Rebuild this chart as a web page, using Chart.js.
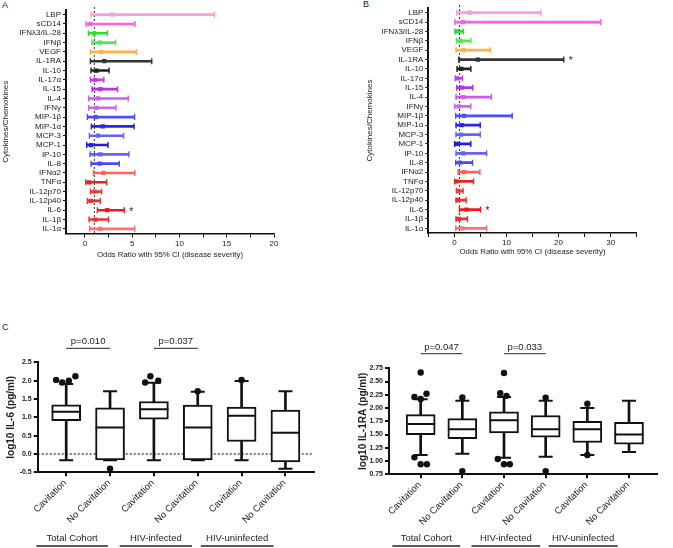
<!DOCTYPE html>
<html><head><meta charset="utf-8">
<script src="https://cdn.jsdelivr.net/npm/chart.js@4.4.1/dist/chart.umd.min.js"></script>
<style>
html,body{margin:0;padding:0;background:#fff;width:673px;height:548px;overflow:hidden;font-family:"Liberation Sans",Arial,sans-serif}
canvas{position:absolute}
.lbl{position:absolute;font-size:9px;color:#222;line-height:1}
</style></head><body>
<div class="lbl" style="left:2px;top:1px">A</div>
<div class="lbl" style="left:363px;top:0px">B</div>
<div class="lbl" style="left:2px;top:323px">C</div>
<canvas id="cA" width="330" height="290" style="left:0;top:0"></canvas>
<canvas id="cB" width="343" height="290" style="left:330px;top:0"></canvas>
<canvas id="cL" width="330" height="248" style="left:0;top:300px"></canvas>
<canvas id="cR" width="343" height="248" style="left:330px;top:300px"></canvas>
<script>
// ---------- Forest plots (A, B) ----------
const cytokines = ['LBP','sCD14','IFNλ3/IL-28','IFNβ','VEGF','IL-1RA','IL-10','IL-17α','IL-15','IL-4','IFNγ','MIP-1β','MIP-1α','MCP-3','MCP-1','IP-10','IL-8','IFNα2','TNFα','IL-12p70','IL-12p40','IL-6','IL-1β','IL-1α'];
const oddsA   = [2.9,0.58,1.0,1.56,1.74,2.05,1.24,1.1,1.63,1.39,1.21,1.14,1.88,1.39,0.65,1.63,1.56,1.95,0.44,1.03,0.61,2.37,1.1,1.63];
const ciLowA  = [0.65,0.13,0.37,0.76,0.58,0.58,0.65,0.58,0.76,0.4,0.4,0.26,0.68,0.47,0.19,0.54,0.65,0.9,0.09,0.58,0.26,1.32,0.44,0.5];
const ciHighA = [13.7,5.3,2.37,3.25,5.45,7.07,2.55,2.0,3.45,4.58,3.28,5.25,5.2,4.09,2.44,4.65,3.63,5.28,2.3,1.77,1.63,4.16,2.5,5.28];
const signifA = ['IL-6'];
const oddsB   = [2.96,1.68,0.5,1.16,1.74,4.5,1.35,0.5,1.48,1.68,0.9,1.87,1.42,1.29,0.5,1.68,1.03,1.87,0.39,0.77,0.71,2.32,0.84,1.55];
const ciLowB  = [0.45,0.1,0.13,0.39,0.32,0.84,0.52,0.19,0.45,0.32,0.06,0.26,0.32,0.32,0.05,0.32,0.26,0.71,0.05,0.39,0.32,0.97,0.32,0.26];
const ciHighB = [16.6,28.1,1.74,3.16,6.9,21.0,3.16,1.55,3.55,7.1,3.16,11.1,4.97,4.97,3.16,6.2,3.48,4.9,3.68,1.68,2.26,5.03,2.51,6.2];
const signifB = ['IL-1RA','IL-6'];
const xTicksA = [0,2.5,5,7.5,10,12.5,15,17.5,20];
const xTicksB = [-5,0,5,10,15,20,25,30,35];
const forestRefValue = 1;

// ---------- Box plots (C) ----------
const boxCats = ['Cavitation','No Cavitation','Cavitation','No Cavitation','Cavitation','No Cavitation'];
const cohortGroups = ['Total Cohort','HIV-infected','HIV-uninfected'];
const il6Min = [-0.17,-0.17,-0.17,-0.17,-0.17,-0.4];
const il6Q1  = [0.91,-0.16,0.95,-0.16,0.34,-0.22];
const il6Med = [1.15,0.72,1.22,0.72,1.04,0.58];
const il6Q3  = [1.34,1.26,1.43,1.33,1.28,1.2];
const il6Max = [1.91,1.71,1.94,1.70,1.99,1.71];
// [category, value, horizontal spread]
const il6Outliers = [[1,2.02,-0.23],[1,1.95,-0.09],[1,2.0,0.06],[1,2.12,0.21],[2,-0.4,0],[3,1.95,-0.2],[3,2.12,-0.08],[3,2.0,0.1],[4,1.71,0],[5,2.02,0]];
const il6PTexts = ['p=0.010','p=0.037'];
const il6Pairs = [[1,2],[3,4]];
const ilraMin = [1.115,1.14,1.06,1.08,1.115,1.17];
const ilraQ1  = [1.50,1.42,1.53,1.45,1.35,1.32];
const ilraMed = [1.70,1.60,1.77,1.60,1.60,1.50];
const ilraQ3  = [1.875,1.80,1.93,1.86,1.75,1.73];
const ilraMax = [2.165,2.14,2.21,2.14,2.0,2.14];
const ilraOutliers = [[1,2.67,0],[1,2.21,-0.15],[1,2.17,0],[1,2.27,0.14],[1,1.07,-0.15],[1,0.94,0],[1,0.94,0.15],[2,2.2,0],[2,0.81,0],[3,2.66,0],[3,2.28,-0.09],[3,2.23,0.06],[3,1.04,-0.15],[3,0.94,0],[3,0.94,0.14],[4,2.195,0],[4,0.81,0],[5,2.08,0],[5,1.115,0]];
const ilraPTexts = ['p=0.047','p=0.033'];
const ilraPairs = [[1,2],[3,4]];

// ---------- styles ----------
const rowColors = ['#ff9ade','#ff5fe4','#2fdc2f','#4fe84f','#ffae4a','#333333','#222222','#c93aec','#b832e0','#cc5cee','#cc66ee','#4d4dff','#2525ee','#6262ff','#2020dd','#6262ff','#4a4aee','#ff6060','#ee2020','#ee3a3a','#ee3030','#ee1a1a','#ee3030','#ff7070'];
const groupSpans = [[0.32,1.95],[2.22,3.87],[4.07,5.73]];
const FONT = '"Liberation Sans", Arial, Helvetica, sans-serif';
Chart.defaults.font.family = FONT;
Chart.defaults.color = '#222';
Chart.defaults.animation = false;
Chart.defaults.plugins.legend.display = false;
Chart.defaults.plugins.tooltip.enabled = false;

function forestPlugin(hi, sig) {
  return {
    id: 'forestExtras',
    beforeDatasetsDraw(chart) {
      const {ctx, chartArea, scales:{x}} = chart;
      const px = x.getPixelForValue(forestRefValue);
      ctx.save(); ctx.strokeStyle = '#333'; ctx.lineWidth = 1; ctx.setLineDash([2,2]);
      ctx.beginPath(); ctx.moveTo(px, chartArea.top - 3); ctx.lineTo(px, chartArea.bottom); ctx.stroke(); ctx.restore();
    },
    afterDatasetsDraw(chart) {
      const {ctx, scales:{x,y}} = chart;
      ctx.save(); ctx.fillStyle = '#222'; ctx.font = '10px ' + FONT; ctx.textBaseline = 'middle';
      sig.forEach(name => { const i = cytokines.indexOf(name); ctx.fillText('*', x.getPixelForValue(hi[i]) + 5, y.getPixelForValue(i) + 2); });
      ctx.restore();
    }
  };
}

function forestChart(id, odds, lo, hi, sig, xTicks, labelEvery, lay) {
  return new Chart(document.getElementById(id), {
    type: 'bar',
    data: {
      labels: cytokines,
      datasets: [
        { type:'bar', data: cytokines.map((c,i)=>[lo[i],hi[i]]), backgroundColor: rowColors, barThickness: 2, grouped:false, order:3 },
        { type:'scatter', data: cytokines.flatMap((c,i)=>[{x:lo[i],y:c},{x:hi[i],y:c}]), pointStyle:'line', rotation:90, radius:3, borderWidth:1.4,
          borderColor: cytokines.flatMap((c,i)=>[rowColors[i],rowColors[i]]), order:2 },
        { type:'scatter', data: cytokines.map((c,i)=>({x:odds[i],y:c})), pointStyle:'rect', radius:3, backgroundColor: rowColors, borderColor: rowColors, borderWidth:0, order:1 }
      ]
    },
    options: {
      indexAxis:'y', responsive:false, animation:false,
      layout:{ padding: lay.pad },
      scales: {
        x: {
          type:'linear', min: lay.xmin, max: lay.xmax,
          afterBuildTicks: s => { s.ticks = xTicks.map(v => ({value:v})); },
          afterFit: s => { s.height = lay.xh; s.paddingLeft = 0; s.paddingRight = 0; },
          ticks: { autoSkip:false, maxRotation:0, minRotation:0, padding:1, font:{size:8}, color:'#222', callback: v => (v % labelEvery === 0 ? String(v) : '') },
          grid: { drawOnChartArea:false, drawTicks:true, tickLength:4, color:'#111', lineWidth:1 },
          border: { color:'#111', width:1.5 },
          title: { display:true, text:'Odds Ratio with 95% CI (disease severity)', font:{size:7.8}, padding:{top:0,bottom:0}, color:'#222' }
        },
        y: {
          type:'category', labels: cytokines, offset:true,
          afterFit: s => { s.width = lay.yw; s.paddingTop = 0; s.paddingBottom = 0; },
          ticks: { autoSkip:false, padding:2, font:{size:8}, color:'#222' },
          grid: { offset:false, drawOnChartArea:false, drawTicks:true, tickLength:3, color:'#111', lineWidth:1 },
          border: { color:'#111', width:2 },
          title: { display:true, text:'Cytokines/Chemokines', font:{size:8}, padding:{top:1.2,bottom:0}, color:'#222' }
        }
      }
    },
    plugins: [forestPlugin(hi, sig)]
  });
}

forestChart('cA', oddsA, ciLowA, ciHighA, signifA, xTicksA, 5,
  { pad:{left:0, top:10, right:56, bottom:30.6}, xmin:-2, xmax:20, xh:25.9, yw:66 });
forestChart('cB', oddsB, ciLowB, ciHighB, signifB, xTicksB, 10,
  { pad:{left:34, top:8, right:36.3, bottom:33.2}, xmin:-5, xmax:35, xh:23.8, yw:64.3 });

function boxPlugin(pairs, pTexts, lay) {
  return {
    id: 'boxExtras',
    beforeDatasetsDraw(chart) {
      if (lay.refY === undefined) return;
      const {ctx, chartArea, scales:{y}} = chart;
      const py = y.getPixelForValue(lay.refY);
      ctx.save(); ctx.strokeStyle = '#222'; ctx.lineWidth = 1.2; ctx.setLineDash([2,2]);
      ctx.beginPath(); ctx.moveTo(chartArea.left, py); ctx.lineTo(chartArea.right, py); ctx.stroke(); ctx.restore();
    },
    afterDraw(chart) {
      const {ctx, scales:{x}} = chart;
      ctx.save(); ctx.fillStyle = '#222'; ctx.strokeStyle = '#222'; ctx.textAlign = 'center'; ctx.textBaseline = 'middle';
      ctx.font = '9.5px ' + FONT;
      pairs.forEach((p,i) => {
        const a = x.getPixelForValue(p[0]), b = x.getPixelForValue(p[1]);
        ctx.fillText(pTexts[i], (a+b)/2, lay.pTextY);
        ctx.lineWidth = 1; ctx.beginPath(); ctx.moveTo(a, lay.pLineY); ctx.lineTo(b, lay.pLineY); ctx.stroke();
      });
      cohortGroups.forEach((g,i) => {
        const a = x.getPixelForValue(groupSpans[i][0]), b = x.getPixelForValue(groupSpans[i][1]);
        ctx.fillText(g, (a+b)/2, lay.gTextY);
        ctx.lineWidth = 1.5; ctx.beginPath(); ctx.moveTo(a, lay.gLineY); ctx.lineTo(b, lay.gLineY); ctx.stroke();
      });
      ctx.restore();
    }
  };
}

function boxChart(id, mn, q1, med, q3, mx, outl, pairs, pTexts, ycfg, lay) {
  const pos = boxCats.map((c,i)=>i+1);
  return new Chart(document.getElementById(id), {
    type:'bar',
    data: { datasets: [
      { type:'bar', data: pos.map((p,i)=>({x:p, y:[mn[i], mx[i]]})), backgroundColor:'#111', barThickness:2, grouped:false, order:5 },
      { type:'bar', data: pos.map((p,i)=>({x:p, y:[q1[i], q3[i]]})), backgroundColor:'#fff', borderColor:'#111', borderWidth:2, borderSkipped:false, barThickness:29, grouped:false, order:4 },
      { type:'scatter', data: pos.map((p,i)=>({x:p, y:med[i]})), pointStyle:'line', radius:14.5, borderColor:'#111', borderWidth:2, order:3 },
      { type:'scatter', data: pos.flatMap((p,i)=>[{x:p,y:mn[i]},{x:p,y:mx[i]}]), pointStyle:'line', radius:7, borderColor:'#111', borderWidth:2, order:2 },
      { type:'scatter', data: outl.map(o=>({x:o[0]+o[2], y:o[1]})), pointStyle:'circle', radius:3.2, backgroundColor:'#111', borderWidth:0, order:1 }
    ]},
    options: {
      responsive:false, animation:false,
      layout:{ padding: lay.pad },
      scales: {
        x: {
          type:'linear', min: lay.xmin, max: lay.xmax, offset:false,
          afterBuildTicks: s => { s.ticks = pos.map(v => ({value:v})); },
          afterFit: s => { s.height = lay.xh; s.paddingLeft = 0; s.paddingRight = 0; },
          ticks: { autoSkip:false, minRotation:45, maxRotation:45, padding:1, labelOffset:-1, font:{size:9.5}, color:'#222', callback: v => boxCats[v-1] },
          grid: { offset:false, drawOnChartArea:false, drawTicks:true, tickLength:4, color:'#111', lineWidth:2 },
          border: { color:'#111', width:2 }
        },
        y: {
          type:'linear', min: ycfg.min, max: ycfg.max,
          afterFit: s => { s.width = lay.yw; s.paddingTop = 0; s.paddingBottom = 0; },
          ticks: { stepSize: ycfg.step, padding:2, font:{size:7, weight:'bold'}, color:'#222', callback: v => Number(v).toFixed(ycfg.dec) },
          grid: { drawOnChartArea:false, drawTicks:true, tickLength:4, color:'#111', lineWidth:2 },
          border: { color:'#111', width:2 },
          title: { display:true, text: ycfg.title, font:{size:10, weight:'bold'}, padding:{top:0.8,bottom:0}, color:'#222' }
        }
      }
    },
    plugins: [boxPlugin(pairs, pTexts, lay)]
  });
}

boxChart('cL', il6Min, il6Q1, il6Med, il6Q3, il6Max, il6Outliers, il6Pairs, il6PTexts,
  { min:-0.5, max:2.5, step:0.5, dec:1, title:'log10 IL-6 (pg/ml)' },
  { pad:{left:4, top:62.3, right:7, bottom:0}, xmin:0.35, xmax:6.64, xh:75.7, yw:33.7, refY:0,
    pTextY:41.7, pLineY:48.3, gTextY:238.3, gLineY:246 });
boxChart('cR', ilraMin, ilraQ1, ilraMed, ilraQ3, ilraMax, ilraOutliers, ilraPairs, ilraPTexts,
  { min:0.75, max:2.75, step:0.25, dec:2, title:'log10 IL-1RA (pg/ml)' },
  { pad:{left:26, top:68.3, right:1.3, bottom:0}, xmin:0.24, xmax:6.66, xh:73.7, yw:33, refY:undefined,
    pTextY:47.7, pLineY:53.7, gTextY:238.3, gLineY:246 });
</script>
</body></html>
